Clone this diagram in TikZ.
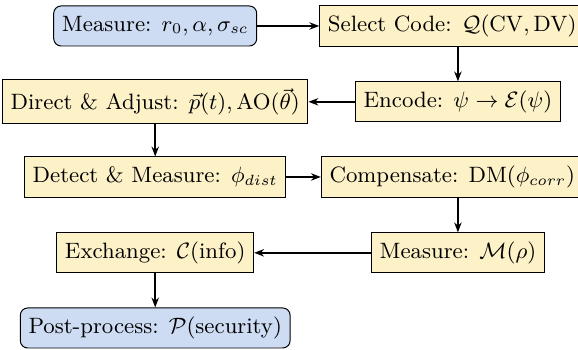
\documentclass[tikz,border=0pt]{standalone}
\usepackage{amsmath}
\usetikzlibrary{arrows.meta}

\definecolor{stepfill}{RGB}{253,241,199}
\definecolor{endfill}{RGB}{205,219,243}

\begin{document}
\begin{tikzpicture}[font=\small,
		stepbox/.style={draw, fill=stepfill, minimum height=0.57cm},
		endbox/.style={draw, fill=endfill, rounded corners=3pt, minimum height=0.57cm},
		link/.style={-{Stealth[length=4pt]}, semithick}]

					% frame
					\useasboundingbox (0,0) rectangle (8.23,-4.97);

					% start and end
					\node [endbox] (meas) at (2.21,-0.37) {Measure: $r_0, \alpha, \sigma_{sc}$};
					\node [endbox] (post) at (2.21,-4.67) {Post-process: $\mathcal{P}(\text{security})$};

					% steps
					\node [stepbox] (sel) at (6.44,-0.37) {Select Code: $\mathcal{Q}(\mathrm{CV}, \mathrm{DV})$};
					\node [stepbox] (enc) at (6.52,-1.45) {Encode: $\psi \rightarrow \mathcal{E}(\psi)$};
					\node [stepbox] (dir) at (2.21,-1.45) {Direct \& Adjust: $\vec{p}(t), \mathrm{AO}(\vec{\theta})$};
					\node [stepbox] (det) at (2.21,-2.52) {Detect \& Measure: $\phi_{dist}$};
					\node [stepbox] (comp) at (6.44,-2.52) {Compensate: $\mathrm{DM}(\phi_{corr})$};
					\node [stepbox] (mrho) at (6.52,-3.60) {Measure: $\mathcal{M}(\rho)$};
					\node [stepbox] (exch) at (2.21,-3.60) {Exchange: $\mathcal{C}(\text{info})$};

					% arrows
					\draw [link] (meas) -- (sel);
					\draw [link] (enc.north |- sel.south) -- (enc.north);
					\draw [link] (enc) -- (dir);
					\draw [link] (dir) -- (det);
					\draw [link] (det) -- (comp);
					\draw [link] (mrho.north |- comp.south) -- (mrho.north);
					\draw [link] (mrho) -- (exch);
					\draw [link] (exch) -- (post);

				\end{tikzpicture}
\end{document}
